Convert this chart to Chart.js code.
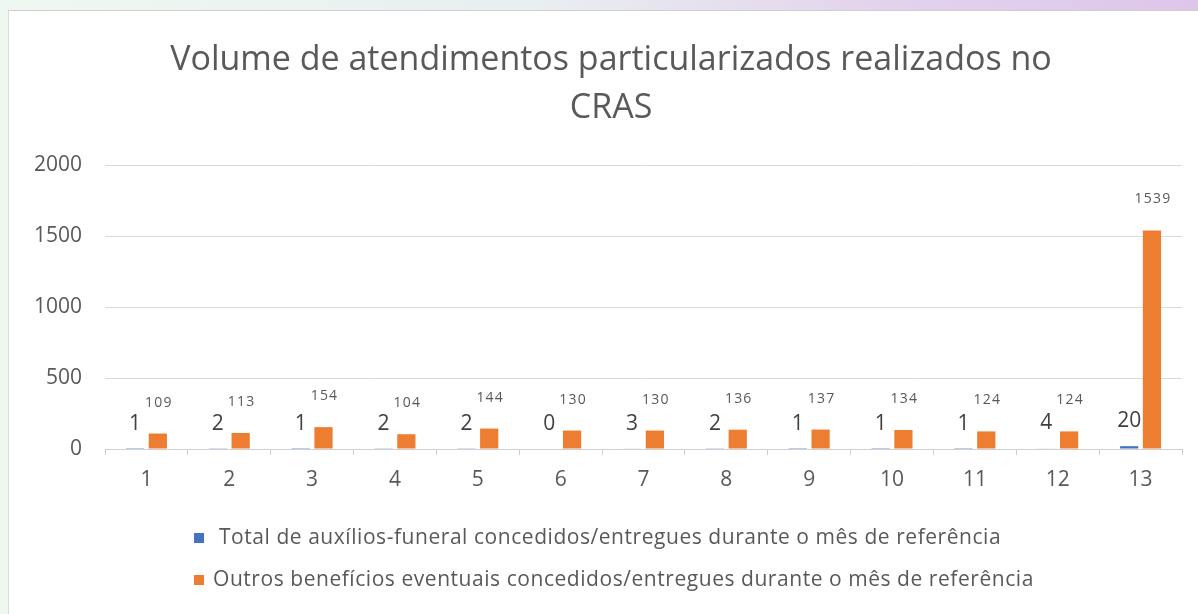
<!DOCTYPE html>
<html>
<head>
<meta charset="utf-8">
<script src="https://cdn.jsdelivr.net/npm/chart.js@4"></script>
<style>
    html, body { margin: 0; padding: 0; }
    body {
        width: 1198px; height: 614px; overflow: hidden; position: relative;
        background: linear-gradient(90deg, #eef8f1 0%, #e9eef0 45%, #e2d2ec 75%, #dec6ea 100%);
    }
    #panel {
        position: absolute; left: 8px; top: 10px; width: 1190px; height: 604px;
        background: #fff; border-top: 1px solid #cfcfcf; border-left: 1px solid #dcdcdc;
    }
    canvas { display: block; }
</style>
</head>
<body>
<div id="panel"><canvas id="grafico" width="1190" height="604"></canvas></div>
<script>
// Dados do gráfico
const categorias = ['1', '2', '3', '4', '5', '6', '7', '8', '9', '10', '11', '12', '13'];
const auxiliosFuneral = [1, 2, 1, 2, 2, 0, 3, 2, 1, 1, 1, 4, 20];
const outrosBeneficios = [109, 113, 154, 104, 144, 130, 130, 136, 137, 134, 124, 124, 1539];
const tituloLinhas = ['Volume de atendimentos particularizados realizados no', 'CRAS'];
const nomesSeries = [
    'Total de auxílios-funeral concedidos/entregues durante o mês de referência',
    'Outros benefícios eventuais concedidos/entregues durante o mês de referência'
];
const ticksY = [0, 500, 1000, 1500, 2000];

const FONTE = '"Open Sans", Lato, sans-serif';
const CINZA = '#595959';

// Rótulos de dados (acima das barras)
const rotulosPlugin = {
    id: 'rotulos',
    afterDatasetsDraw(chart) {
        const ctx = chart.ctx;
        ctx.save();
        ctx.textAlign = 'center';
        ctx.textBaseline = 'alphabetic';
        chart.data.datasets.forEach((ds, i) => {
            const meta = chart.getDatasetMeta(i);
            meta.data.forEach((bar, j) => {
                if (i === 0) {
                    ctx.font = '21px ' + FONTE;
                    ctx.letterSpacing = '0px';
                    ctx.fillStyle = '#404040';
                    ctx.fillText(ds.data[j], bar.x, bar.y - 19);
                } else {
                    ctx.font = '14px ' + FONTE;
                    ctx.letterSpacing = '1.2px';
                    ctx.fillStyle = CINZA;
                    ctx.fillText(ds.data[j], bar.x + 1, bar.y - 27);
                }
            });
        });
        ctx.restore();
    }
};

// Legenda desenhada à mão (linhas alinhadas à esquerda)
const legendaPlugin = {
    id: 'legenda',
    afterDraw(chart) {
        const ctx = chart.ctx;
        ctx.save();
        ctx.font = '21px ' + FONTE;
        ctx.letterSpacing = '0.55px';
        ctx.textBaseline = 'middle';
        ctx.textAlign = 'left';
        const linhasY = [527, 569];
        const textoX = [210, 204];
        chart.data.datasets.forEach((ds, i) => {
            const y = linhasY[i];
            ctx.fillStyle = ds.backgroundColor;
            ctx.fillRect(185, y - 5, 10, 10);
            ctx.fillStyle = CINZA;
            ctx.fillText(ds.label, textoX[i], y);
        });
        ctx.restore();
    }
};

const ctx = document.getElementById('grafico').getContext('2d');
new Chart(ctx, {
    type: 'bar',
    data: {
        labels: categorias,
        datasets: [{
            label: nomesSeries[0],
            data: auxiliosFuneral,
            backgroundColor: '#4472C4',
            categoryPercentage: 0.55,
            barPercentage: 0.8
        }, {
            label: nomesSeries[1],
            data: outrosBeneficios,
            backgroundColor: '#ED7D31',
            categoryPercentage: 0.55,
            barPercentage: 0.8
        }]
    },
    options: {
        responsive: false,
        animation: false,
        layout: { padding: { left: 20, right: 6, top: 0, bottom: 124 } },
        plugins: {
            legend: { display: false },
            tooltip: { enabled: false },
            title: {
                display: true,
                text: tituloLinhas,
                color: CINZA,
                font: { family: FONTE, size: 34, weight: 'normal', lineHeight: 48 / 34 },
                padding: { top: 25, bottom: 33 }
            }
        },
        scales: {
            x: {
                grid: { drawOnChartArea: false, drawTicks: true, tickLength: 6, color: '#cfcfcf' },
                border: { color: '#d0d0d0' },
                ticks: { color: CINZA, font: { family: FONTE, size: 21 }, padding: 12 },
                afterFit(s) { s.height = 42; }
            },
            y: {
                min: 0,
                max: 2000,
                afterBuildTicks(s) { s.ticks = ticksY.map(v => ({ value: v })); },
                grid: { color: '#d9d9d9', drawTicks: false },
                border: { display: false },
                ticks: {
                    color: CINZA,
                    font: { family: FONTE, size: 21 },
                    padding: 23,
                    callback: v => String(v)
                },
                afterFit(s) { s.width = 76; }
            },
            // eixo vazio à direita, só para centralizar o título como no original
            direita: {
                position: 'right',
                grid: { display: false },
                border: { display: false },
                ticks: { display: false },
                afterFit(s) { s.width = 11; }
            }
        }
    },
    plugins: [rotulosPlugin, legendaPlugin]
});
</script>
</body>
</html>
